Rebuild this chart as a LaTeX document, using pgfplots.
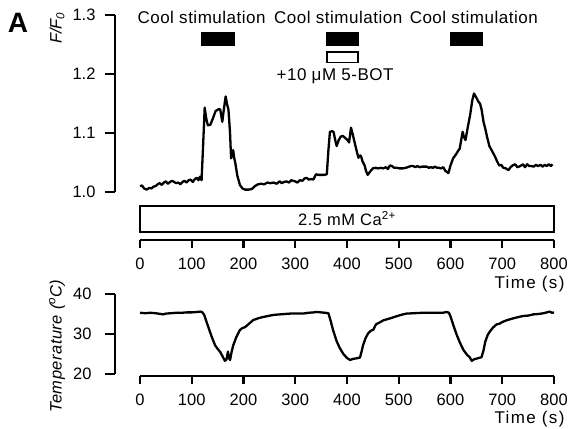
\documentclass[border=0pt]{standalone}
\usepackage{fontspec}
\setmainfont{Liberation Sans}
\newfontfamily\lab[LetterSpace=3]{Liberation Sans}
\newfontfamily\labw[LetterSpace=8]{Liberation Sans}
\usepackage{pgfplots}
\pgfplotsset{compat=1.18}
\newcommand{\fs}[1]{\fontsize{#1bp}{#1bp}\selectfont}
\pgfplotsset{
  base/.style={scale only axis, enlargelimits=false, clip=false,
    tick style={line width=2.2bp, black},
    tick label style={font=\fs{16.5}},
    /pgf/number format/assume math mode=true,
    anchor=south west},
  noarrow/.style={axis line style={line width=2.2bp,-},
    every outer x axis line/.append style={-},
    every outer y axis line/.append style={-},
    every inner x axis line/.append style={-},
    every inner y axis line/.append style={-},
    tick align=outside},
  trace/.style={black, line width=2.3bp, line join=round, no marks},
}
\begin{document}
\begin{tikzpicture}
\useasboundingbox (0,0) rectangle (569bp,429bp);
% ---------- top panel: F/F0 ----------
\begin{axis}[base, at={(115bp,237bp)}, width=439bp, height=177bp,
  xmin=-48.31, xmax=800, ymin=1.0, ymax=1.3,
  axis x line=none, axis y line=left, xtick=\empty, noarrow,
  ytick={1.0,1.1,1.2,1.3}, major tick length=10bp,
  yticklabel style={/pgf/number format/.cd,fixed,fixed zerofill,precision=1, /tikz/xshift=-6bp}]
\addplot[trace] coordinates {
(0,1.010) (4,1.011) (8,1.006) (13,1.004) (18,1.007) (22,1.006) (26,1.009) (30,1.010) (34,1.013) (38,1.015) (42,1.012) (46,1.016) (50,1.018) (54,1.014) (58,1.017) (62,1.019) (66,1.017) (70,1.015) (74,1.016) (78,1.013) (82,1.017) (86,1.019) (90,1.016) (94,1.020) (98,1.021) (102,1.017) (106,1.022) (110,1.024) (113,1.020) (116,1.026) (119,1.020) (122,1.080) (125,1.143) (128,1.125) (131,1.113) (136,1.114) (141,1.125) (146,1.137) (151,1.140) (155,1.140) (159,1.119) (162,1.140) (165.5,1.162) (168,1.150) (171,1.139) (174,1.100) (176,1.057) (178,1.063) (180,1.071) (182,1.058) (184,1.050) (188,1.028) (193,1.012) (198,1.006) (203,1.004) (210,1.004) (216,1.005) (222,1.010) (228,1.013) (234,1.014) (240,1.013) (246,1.016) (252,1.015) (258,1.016) (264,1.014) (270,1.018) (274,1.015) (278,1.017) (283,1.018) (288,1.016) (292,1.020) (296,1.019) (300,1.018) (304,1.016) (309,1.020) (314,1.019) (318,1.023) (322,1.024) (326,1.021) (331,1.022) (335,1.021) (340,1.030) (345,1.029) (350,1.029) (356,1.029) (361,1.030) (364,1.070) (367,1.102) (371,1.103) (374,1.102) (378,1.085) (380,1.078) (384,1.088) (388,1.094) (392,1.095) (396,1.092) (400,1.089) (404,1.084) (407.7,1.109) (411,1.098) (415,1.083) (418,1.072) (420,1.065) (422,1.058) (425,1.062) (427,1.061) (430,1.052) (434,1.045) (437,1.035) (440,1.029) (445,1.035) (450,1.040) (455,1.041) (460,1.040) (465,1.041) (470,1.040) (475,1.042) (479,1.039) (483,1.045) (487,1.044) (491,1.041) (496,1.041) (502,1.040) (508,1.040) (514,1.041) (520,1.043) (524,1.044) (528,1.044) (532,1.042) (536,1.044) (540,1.042) (545,1.043) (550,1.043) (554,1.043) (558,1.041) (562,1.042) (566,1.041) (570,1.043) (574,1.041) (578,1.041) (582,1.040) (586,1.042) (590,1.036) (596,1.032) (600,1.045) (605,1.057) (610,1.063) (615,1.070) (618,1.074) (621,1.090) (623.5,1.102) (626,1.093) (629,1.088) (633,1.108) (638,1.131) (642,1.155) (645.4,1.167) (650,1.160) (654,1.153) (657,1.150) (660,1.140) (664,1.118) (667,1.108) (671,1.092) (675,1.078) (680,1.070) (686,1.060) (690,1.052) (694,1.045) (698,1.046) (702,1.041) (707,1.040) (712,1.037) (716,1.042) (720,1.045) (725,1.047) (729,1.042) (735,1.044) (740,1.047) (744,1.042) (748,1.047) (752,1.044) (756,1.044) (761,1.043) (765,1.046) (769,1.044) (774,1.046) (778,1.043) (782,1.046) (786,1.044) (790,1.047) (794,1.044) (797,1.047)
};
% stimulation bars
\addplot[fill=black, draw=black, line width=0.5bp] coordinates {(118,1.248) (182,1.248) (182,1.2707) (118,1.2707)} -- cycle;
\addplot[fill=black, draw=black, line width=0.5bp] coordinates {(360,1.248) (422,1.248) (422,1.2707) (360,1.2707)} -- cycle;
\addplot[fill=black, draw=black, line width=0.5bp] coordinates {(600,1.248) (662,1.248) (662,1.2707) (600,1.2707)} -- cycle;
\addplot[fill=white, draw=black, line width=1.8bp] coordinates {(361,1.2195) (421,1.2195) (421,1.2375) (361,1.2375)} -- cycle;
\node[font=\lab\fs{17}] at (axis cs:119,1.2966) {Cool stimulation};
\node[font=\lab\fs{17}] at (axis cs:383,1.2966) {Cool stimulation};
\node[font=\lab\fs{17}] at (axis cs:645,1.2966) {Cool stimulation};
\node[font=\lab\fs{17}] at (axis cs:377,1.1966) {+10 μM 5-BOT};
\node[font=\bfseries\fs{28}] at (axis description cs:-0.221,0.955) {A};
\node[font=\fs{16.5}, rotate=90] at (axis description cs:-0.132,0.9266) {\textit{F/F\textsubscript{0}}};
\end{axis}
% ---------- Ca bar + top time axis ----------
\begin{axis}[base, at={(140bp,189bp)}, width=414bp, height=40bp,
  xmin=0, xmax=800, ymin=0, ymax=1,
  axis x line=bottom, axis y line=none, ytick=\empty, noarrow,
  xtick={0,100,...,800}, major tick length=8bp,
  xticklabel style={yshift=-6bp}]
\draw[line width=2.2bp, fill=white] (axis cs:0,0.2) rectangle (axis cs:800,0.8575);
\node[font=\lab\fs{16.5}] at (axis cs:400,0.53) {2.5 mM Ca\textsuperscript{2+}};
\node[font=\labw\fs{17}, anchor=east] at (axis description cs:1.0338,-1.1) {Time (s)};
\end{axis}
% ---------- bottom panel: temperature ----------
\begin{axis}[base, at={(115bp,55bp)}, width=439bp, height=80bp,
  xmin=-48.31, xmax=800, ymin=20, ymax=40,
  axis x line=none, axis y line=left, xtick=\empty, noarrow,
  ytick={20,30,40}, major tick length=10bp,
  yticklabel style={xshift=-10bp}]
\addplot[trace] coordinates {
(0,35.3) (10,35.2) (20,35.3) (30,35.2) (40,35.0) (45,34.9) (50,35.1) (60,35.2) (70,35.3) (80,35.3) (90,35.4) (100,35.4) (110,35.5) (116,35.6) (120,35.5) (124,34.8) (130,32.5) (138,29.5) (145,27.2) (150,26.3) (155,25.5) (160,24.3) (164,23.3) (167,23.6) (170,25.6) (172,24.0) (174,23.5) (177,25.5) (180,27.1) (186,29.2) (193,31.0) (198,31.5) (203,31.7) (210,32.5) (219,33.5) (230,34.0) (240,34.3) (251,34.6) (260,34.8) (270,34.9) (280,35.0) (290,35.1) (300,35.1) (315,35.1) (325,35.3) (335,35.4) (341,35.5) (350,35.4) (358,35.3) (364,35.2) (368,33.5) (373,31.0) (380,28.2) (386,26.5) (393,25.0) (400,24.0) (406,23.5) (412,23.8) (418,23.9) (425,24.1) (428,25.5) (431,27.2) (436,29.0) (441,30.2) (446,30.8) (451,31.1) (455,32.2) (457,32.5) (462,32.8) (470,33.4) (483,33.9) (495,34.4) (505,34.8) (515,35.1) (530,35.2) (545,35.3) (554,35.3) (570,35.3) (585,35.3) (593,35.5) (597,35.3) (600,34.4) (606,32.0) (612,29.8) (618,27.9) (625,26.0) (632,24.8) (637,24.2) (641,23.3) (646,23.7) (652,23.9) (660,24.2) (664,26.0) (667,28.0) (672,29.8) (676,30.6) (682,31.6) (689,32.4) (695,32.6) (700,33.0) (710,33.5) (721,33.9) (730,34.2) (740,34.5) (750,34.6) (760,34.9) (770,35.0) (780,35.2) (786,35.4) (792,35.6) (796,35.3) (800,35.4)
};
\node[font=\lab\fs{16.5}, rotate=90] at (axis description cs:-0.132,0.35) {\textit{Temperature (\textsuperscript{o}C)}};
\end{axis}
% ---------- bottom time axis ----------
\begin{axis}[base, at={(140bp,53bp)}, width=414bp, height=20bp,
  xmin=0, xmax=800, ymin=0, ymax=1,
  axis x line=bottom, axis y line=none, ytick=\empty, noarrow,
  xtick={0,100,...,800}, major tick length=8bp,
  xticklabel style={yshift=-6bp}]
\node[font=\labw\fs{17}, anchor=east] at (axis description cs:1.0338,-2.17) {Time (s)};
\end{axis}
\end{tikzpicture}
\end{document}
